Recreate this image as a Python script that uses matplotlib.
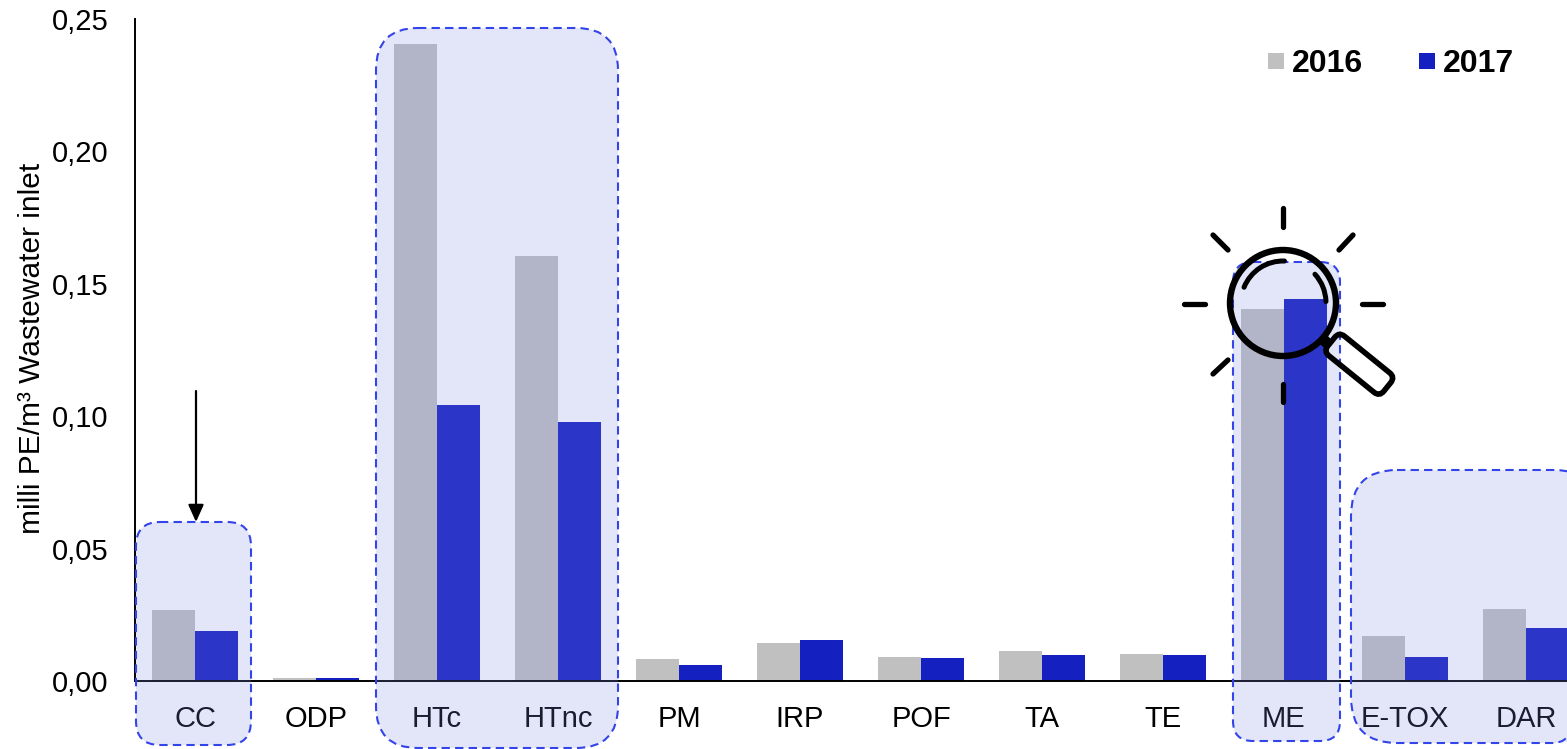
import numpy as np
import matplotlib
matplotlib.use("Agg")
import matplotlib.pyplot as plt
from matplotlib.patches import FancyBboxPatch, Circle, Arc
from matplotlib.transforms import Affine2D

categories = ["CC", "ODP", "HTc", "HTnc", "PM", "IRP", "POF", "TA", "TE", "ME", "E-TOX", "DAR"]
values_2016 = [0.0268, 0.0010, 0.2406, 0.1605, 0.0083, 0.0144, 0.0091, 0.0113, 0.0102, 0.1405, 0.0170, 0.0272]
values_2017 = [0.0189, 0.0012, 0.1042, 0.0978, 0.0060, 0.0155, 0.0087, 0.0098, 0.0098, 0.1443, 0.0091, 0.0200]
yticks = [0.0, 0.05, 0.10, 0.15, 0.20, 0.25]

W, H = 1567, 749
GREY = "#c0c0c0"
BLUE = "#1520c0"

plt.rcParams["font.family"] = ["Liberation Sans", "DejaVu Sans"]

fig = plt.figure(figsize=(W / 100, H / 100), dpi=100)
# axes placed in pixels: x axis at y=681, 0.25 at y=19, first category centred at x=195
ax = fig.add_axes([135 / W, (H - 681) / H, (W - 135) / W, 662 / H])

x = np.arange(len(categories))
w = 43 / 121
ax.bar(x - w / 2, values_2016, w, color=GREY)
ax.bar(x + w / 2, values_2017, w, color=BLUE)

ax.set_xlim(-60 / 121, (W - 195) / 121)
ax.set_ylim(0, 0.25)
ax.set_xticks(x)
ax.set_xticklabels(categories, fontsize=21)
ax.set_yticks(yticks)
ax.set_yticklabels([("%.2f" % v).replace(".", ",") for v in yticks], fontsize=21)
ax.tick_params(axis="x", length=0, pad=17)
ax.tick_params(axis="y", length=0, pad=19)
ax.spines["top"].set_visible(False)
ax.spines["right"].set_visible(False)
ax.spines["left"].set_linewidth(1.4)
ax.spines["bottom"].set_linewidth(1.4)
fig.text(32 / W, 1 - 348 / H, "milli PE/m³ Wastewater inlet", rotation=90,
         fontsize=21.5, ha="center", va="center")

# overlay in pixel coordinates for the annotations
ov = fig.add_axes([0, 0, 1, 1], facecolor="none")
ov.set_xlim(0, W)
ov.set_ylim(H, 0)
ov.axis("off")

# x0, y0, x1, y1, radius
highlights = [
    (136, 522, 251, 745, 24),
    (376, 28, 618, 748, 42),
    (1233, 262, 1340, 741, 20),
    (1351, 470, 1600, 743, 46),
]
for x0, y0, x1, y1, r in highlights:
    box = "round,pad=0,rounding_size=%d" % r
    ov.add_patch(FancyBboxPatch((x0, y0), x1 - x0, y1 - y0, boxstyle=box,
                                fc=(126 / 255, 140 / 255, 231 / 255, 0.21), ec="none"))
    ov.add_patch(FancyBboxPatch((x0, y0), x1 - x0, y1 - y0, boxstyle=box,
                                fc="none", ec="#3344e8", lw=1.5, ls=(0, (4, 2.5))))

# arrow down to CC
ov.annotate("", xy=(196, 522), xytext=(196, 391),
            arrowprops=dict(arrowstyle="-|>,head_width=0.36,head_length=0.8", color="black",
                            lw=1.6, mutation_scale=13, shrinkA=0, shrinkB=0))

# legend
ov.add_patch(plt.Rectangle((1268, 53), 16, 16, fc=GREY, ec="none"))
ov.add_patch(plt.Rectangle((1419, 53), 16, 16, fc=BLUE, ec="none"))
ov.text(1292, 61, "2016", fontsize=23, fontweight="bold", va="center_baseline")
ov.text(1443, 61, "2017", fontsize=23, fontweight="bold", va="center_baseline")

# magnifying glass
cx, cy = 1283, 303
ov.add_patch(Circle((cx, cy), 53, fc="none", ec="black", lw=4.6))
ov.add_patch(Arc((cx, cy), 84, 84, theta1=202, theta2=272, ec="black", lw=3.6, capstyle="round"))
ov.add_patch(Arc((cx, cy), 86, 86, theta1=318, theta2=358, ec="black", lw=3.6, capstyle="round"))
hx, hy = 1331, 342
handle = FancyBboxPatch((hx, hy - 13), 72, 25, boxstyle="round,pad=0,rounding_size=7",
                        fc="none", ec="black", lw=4)
handle.set_transform(Affine2D().rotate_deg_around(hx, hy, 39) + ov.transData)
ov.add_patch(handle)
ov.plot([1321, 1330], [337, 346], color="black", lw=8, solid_capstyle="butt")
rays = [((1283, 208), (1283, 227)), ((1283, 384), (1283, 402)), ((1184, 304), (1205, 304)),
        ((1362, 304), (1383, 304)), ((1213, 235), (1228, 250)), ((1353, 235), (1339, 250)),
        ((1228, 360), (1213, 374))]
for p0, p1 in rays:
    ov.plot([p0[0], p1[0]], [p0[1], p1[1]], color="black", lw=3.8, solid_capstyle="round")

fig.savefig("out.png", dpi=100)
